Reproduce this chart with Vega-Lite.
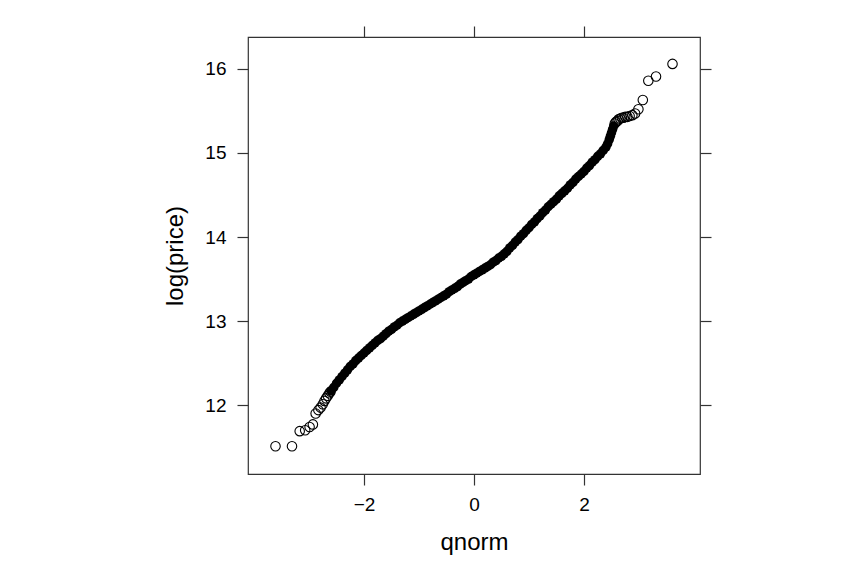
{
  "$schema": "https://vega.github.io/schema/vega-lite/v6.json",
  "autosize": {"type": "none"},
  "padding": {"left": 248, "top": 37, "right": 168, "bottom": 108},
  "width": 452,
  "height": 437,
  "background": "white",
  "config": {
    "view": {"stroke": "#333333", "strokeWidth": 1.2},
    "font": "Liberation Sans",
    "axis": {
      "domain": false,
      "grid": false,
      "ticks": true,
      "tickSize": 11,
      "tickColor": "#333333",
      "tickWidth": 1.2,
      "labelFont": "Liberation Sans",
      "labelFontSize": 19,
      "labelColor": "#000000",
      "titleFont": "Liberation Sans",
      "titleFontSize": 24,
      "titleFontWeight": "normal",
      "titleColor": "#000000"
    }
  },
  "datasets": {
    "band": [
      {"q":-2.60,"v":12.17},{"q":-2.55,"v":12.21},{"q":-2.50,"v":12.26},{"q":-2.45,"v":12.30},{"q":-2.40,"v":12.34},
      {"q":-2.35,"v":12.38},{"q":-2.30,"v":12.42},{"q":-2.25,"v":12.46},{"q":-2.20,"v":12.49},{"q":-2.15,"v":12.53},
      {"q":-2.10,"v":12.56},{"q":-2.05,"v":12.59},{"q":-2.00,"v":12.62},{"q":-1.95,"v":12.65},{"q":-1.90,"v":12.68},
      {"q":-1.85,"v":12.71},{"q":-1.80,"v":12.74},{"q":-1.75,"v":12.77},{"q":-1.70,"v":12.79},{"q":-1.65,"v":12.82},
      {"q":-1.60,"v":12.85},{"q":-1.55,"v":12.88},{"q":-1.50,"v":12.90},{"q":-1.45,"v":12.93},{"q":-1.40,"v":12.95},
      {"q":-1.35,"v":12.98},{"q":-1.30,"v":13.00},{"q":-1.25,"v":13.02},{"q":-1.20,"v":13.04},{"q":-1.15,"v":13.06},
      {"q":-1.10,"v":13.08},{"q":-1.05,"v":13.10},{"q":-1.00,"v":13.12},{"q":-0.95,"v":13.14},{"q":-0.90,"v":13.16},
      {"q":-0.85,"v":13.18},{"q":-0.80,"v":13.20},{"q":-0.75,"v":13.22},{"q":-0.70,"v":13.24},{"q":-0.65,"v":13.26},
      {"q":-0.60,"v":13.28},{"q":-0.55,"v":13.30},{"q":-0.50,"v":13.32},{"q":-0.45,"v":13.35},{"q":-0.40,"v":13.37},
      {"q":-0.35,"v":13.39},{"q":-0.30,"v":13.41},{"q":-0.25,"v":13.44},{"q":-0.20,"v":13.46},{"q":-0.15,"v":13.48},
      {"q":-0.10,"v":13.50},{"q":-0.05,"v":13.53},{"q":0.00,"v":13.55},{"q":0.05,"v":13.57},{"q":0.10,"v":13.59},
      {"q":0.15,"v":13.61},{"q":0.20,"v":13.63},{"q":0.25,"v":13.65},{"q":0.30,"v":13.67},{"q":0.35,"v":13.70},
      {"q":0.40,"v":13.72},{"q":0.45,"v":13.75},{"q":0.50,"v":13.77},{"q":0.55,"v":13.80},{"q":0.60,"v":13.83},
      {"q":0.65,"v":13.87},{"q":0.70,"v":13.90},{"q":0.75,"v":13.94},{"q":0.80,"v":13.97},{"q":0.85,"v":14.01},
      {"q":0.90,"v":14.04},{"q":0.95,"v":14.08},{"q":1.00,"v":14.11},{"q":1.05,"v":14.15},{"q":1.10,"v":14.18},
      {"q":1.15,"v":14.22},{"q":1.20,"v":14.25},{"q":1.25,"v":14.29},{"q":1.30,"v":14.32},{"q":1.35,"v":14.36},
      {"q":1.40,"v":14.39},{"q":1.45,"v":14.42},{"q":1.50,"v":14.45},{"q":1.55,"v":14.49},{"q":1.60,"v":14.52},
      {"q":1.65,"v":14.55},{"q":1.70,"v":14.58},{"q":1.75,"v":14.62},{"q":1.80,"v":14.65},{"q":1.85,"v":14.69},
      {"q":1.90,"v":14.72},{"q":1.95,"v":14.75},{"q":2.00,"v":14.78},{"q":2.05,"v":14.82},{"q":2.10,"v":14.85},
      {"q":2.15,"v":14.89},{"q":2.20,"v":14.92},{"q":2.25,"v":14.96},{"q":2.30,"v":14.99},{"q":2.35,"v":15.03},
      {"q":2.40,"v":15.07},{"q":2.43,"v":15.11},{"q":2.46,"v":15.16},{"q":2.48,"v":15.20},{"q":2.50,"v":15.24},
      {"q":2.52,"v":15.28},{"q":2.54,"v":15.32}
    ],
    "tails": [
      {"q":-3.61,"v":11.51},{"q":-3.31,"v":11.51},{"q":-3.17,"v":11.69},{"q":-3.07,"v":11.70},{"q":-2.99,"v":11.74},
      {"q":-2.93,"v":11.77},{"q":-2.88,"v":11.90},{"q":-2.83,"v":11.94},{"q":-2.79,"v":11.97},{"q":-2.75,"v":12.01},
      {"q":-2.72,"v":12.05},{"q":-2.69,"v":12.08},{"q":-2.66,"v":12.11},{"q":-2.63,"v":12.14},{"q":-2.61,"v":12.16},
      {"q":2.56,"v":15.35},{"q":2.58,"v":15.37},{"q":2.61,"v":15.38},{"q":2.63,"v":15.40},{"q":2.66,"v":15.41},
      {"q":2.69,"v":15.42},{"q":2.72,"v":15.42},{"q":2.75,"v":15.43},{"q":2.79,"v":15.43},{"q":2.83,"v":15.44},
      {"q":2.88,"v":15.45},{"q":2.93,"v":15.47},{"q":2.99,"v":15.52},{"q":3.07,"v":15.63},{"q":3.17,"v":15.86},
      {"q":3.31,"v":15.91},{"q":3.61,"v":16.06}
    ]
  },
  "layer": [
    {
      "data": {"name": "band"},
      "mark": {"type": "point", "filled": true, "color": "#000000", "size": 90, "strokeWidth": 1.1, "opacity": 1},
      "encoding": {
        "x": {
          "field": "q", "type": "quantitative",
          "scale": {"domain": [-4.11, 4.11], "nice": false, "zero": false},
          "axis": {"orient": "bottom", "values": [-2, 0, 2], "format": "d", "title": "qnorm", "labelPadding": 10, "titlePadding": 16}
        },
        "y": {
          "field": "v", "type": "quantitative",
          "scale": {"domain": [11.18, 16.38], "nice": false, "zero": false},
          "axis": {"orient": "left", "values": [12, 13, 14, 15, 16], "format": "d", "title": "log(price)", "labelPadding": 11, "titlePadding": 17}
        }
      }
    },
    {
      "data": {"name": "tails"},
      "mark": {"type": "point", "filled": false, "color": "#000000", "size": 90, "strokeWidth": 1.1, "opacity": 1},
      "encoding": {
        "x": {
          "field": "q", "type": "quantitative",
          "axis": {"orient": "top", "values": [-2, 0, 2], "labels": false, "title": null}
        },
        "y": {
          "field": "v", "type": "quantitative",
          "axis": {"orient": "right", "values": [12, 13, 14, 15, 16], "labels": false, "title": null}
        }
      }
    }
  ],
  "resolve": {"axis": {"x": "independent", "y": "independent"}}
}
